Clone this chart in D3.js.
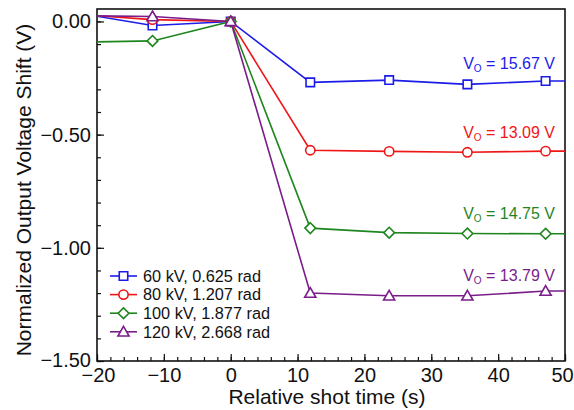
<!DOCTYPE html>
<html>
<head>
<meta charset="utf-8">
<script src="https://cdn.jsdelivr.net/npm/d3@7"></script>
<style>
  html, body { margin: 0; padding: 0; background: #fff; }
  svg { display: block; font-family: "Liberation Sans", Arial, sans-serif; }
</style>
</head>
<body>
<svg id="chart" width="574" height="410"></svg>
<script>
// Shot times (s); first and last points lie just outside the plotted window
const shotTimes = [-23.4, -11.7, 0, 11.9, 23.7, 35.4, 47.1, 58.8];

const seriesNames = ["60 kV, 0.625 rad", "80 kV, 1.207 rad", "100 kV, 1.877 rad", "120 kV, 2.668 rad"];
const v60  = [0.040, -0.018, 0, -0.269, -0.259, -0.278, -0.263, -0.263];
const v80  = [0.032,  0.008, 0, -0.569, -0.574, -0.578, -0.573, -0.573];
const v100 = [-0.092, -0.086, 0, -0.913, -0.933, -0.937, -0.938, -0.938];
const v120 = [0.026,  0.022, 0, -1.200, -1.212, -1.212, -1.191, -1.191];
const vOutput = ["15.67", "13.09", "14.75", "13.79"];

const xTicks = [-20, -10, 0, 10, 20, 30, 40, 50];
const yTicks = [0, -0.5, -1.0, -1.5];

const colors = ["#1c1ce8", "#ee1616", "#1f861f", "#7a1d8a"];
const symbolTypes = [d3.symbolSquare, d3.symbolCircle, d3.symbolDiamond2, d3.symbolTriangle];
const symSize = [72, 68, 74, 54];
const seriesValues = [v60, v80, v100, v120];

const svg = d3.select("#chart");
const m = { left: 97, right: 565, top: 9, bottom: 361 };

const x = d3.scaleLinear().domain([-20, 50]).range([m.left, m.right]);
const y = d3.scaleLinear().domain([-1.5, 0.055]).range([m.bottom, m.top]);

svg.append("defs").append("clipPath").attr("id", "plot")
  .append("rect").attr("x", m.left).attr("y", m.top)
  .attr("width", m.right - m.left).attr("height", m.bottom - m.top);

// Axes with inward ticks
const fmtY = v => (v === 0 ? "0.00" : d3.format(".2f")(v).replace("-", "\u2212"));
const fmtX = v => String(v).replace("-", "\u2212");

const xMinor = d3.range(-20, 50.01, 2);
const yMinor = d3.range(-1.5, 0.051, 0.1);

svg.append("g").attr("transform", `translate(0,${m.bottom})`)
  .call(d3.axisBottom(x).tickValues(xMinor).tickSize(-4).tickFormat(""))
  .call(g => g.select(".domain").remove());
svg.append("g").attr("transform", `translate(0,${m.bottom})`)
  .call(d3.axisBottom(x).tickValues(xTicks).tickSize(-7).tickPadding(7).tickFormat(fmtX))
  .call(g => g.select(".domain").remove())
  .call(g => g.selectAll("text").attr("font-size", 20).attr("fill", "#111")
    .attr("dx", d => (d === 50 ? -3 : d === -20 ? 1 : 0)));

svg.append("g").attr("transform", `translate(${m.left},0)`)
  .call(d3.axisLeft(y).tickValues(yMinor).tickSize(-4).tickFormat(""))
  .call(g => g.select(".domain").remove());
svg.append("g").attr("transform", `translate(${m.left},0)`)
  .call(d3.axisLeft(y).tickValues(yTicks).tickSize(-7).tickPadding(6).tickFormat(fmtY))
  .call(g => g.select(".domain").remove())
  .call(g => g.selectAll("text").attr("font-size", 20).attr("fill", "#111")
    .attr("dy", d => (d === -1.5 ? "0.25em" : "0.32em")));

svg.selectAll(".tick line").attr("stroke", "#111").attr("stroke-width", 1.2);

// Frame
svg.append("rect").attr("x", m.left).attr("y", m.top)
  .attr("width", m.right - m.left).attr("height", m.bottom - m.top)
  .attr("fill", "none").attr("stroke", "#111").attr("stroke-width", 1.6);

// Axis titles
svg.append("text").attr("x", 327).attr("y", 404)
  .attr("text-anchor", "middle").attr("font-size", 21).attr("fill", "#111")
  .text("Relative shot time (s)");
svg.append("text").attr("transform", `translate(31,190) rotate(-90)`)
  .attr("text-anchor", "middle").attr("font-size", 21).attr("fill", "#111")
  .text("Normalized Output Voltage Shift (V)");

// Series
const line = d3.line().x(d => x(d[0])).y(d => y(d[1]));
const plot = svg.append("g").attr("clip-path", "url(#plot)");

seriesValues.forEach((vals, i) => {
  const pts = shotTimes.map((t, j) => [t, vals[j]]);
  plot.append("path").datum(pts).attr("d", line)
    .attr("fill", "none").attr("stroke", colors[i]).attr("stroke-width", 1.6);
  const shape = d3.symbol().type(symbolTypes[i]).size(symSize[i]);
  plot.selectAll(null).data(pts.filter(p => p[0] > -20 && p[0] < 50)).enter()
    .append("path").attr("d", shape)
    .attr("transform", p => `translate(${x(p[0])},${y(p[1]) + (i === 3 ? 1 : 0)})`)
    .attr("fill", "#fff").attr("stroke", colors[i]).attr("stroke-width", 1.6);
});

// Output voltage annotations
const labelY = seriesValues.map(v => y(d3.mean(v.slice(3, 7))) - 13);
vOutput.forEach((val, i) => {
  const t = svg.append("text").attr("x", 555).attr("y", labelY[i])
    .attr("text-anchor", "end").attr("font-size", 16).attr("fill", colors[i]);
  t.append("tspan").text("V");
  t.append("tspan").attr("font-size", 10).attr("dy", 3).text("O");
  t.append("tspan").attr("dy", -3).text(` = ${val} V`);
});

// Legend
const lg = svg.append("g");
seriesNames.forEach((name, i) => {
  const ly = 276 + i * 18.6;
  lg.append("line").attr("x1", 110).attr("x2", 137).attr("y1", ly).attr("y2", ly)
    .attr("stroke", colors[i]).attr("stroke-width", 1.6);
  const shape = d3.symbol().type(symbolTypes[i]).size(symSize[i]);
  lg.append("path").attr("d", shape)
    .attr("transform", `translate(123.5,${ly + (i === 3 ? 1 : 0)})`)
    .attr("fill", "#fff").attr("stroke", colors[i]).attr("stroke-width", 1.6);
  lg.append("text").attr("x", 143).attr("y", ly).attr("dy", "0.36em")
    .attr("font-size", 16.3).attr("fill", "#111").text(name);
});
</script>
</body>
</html>
